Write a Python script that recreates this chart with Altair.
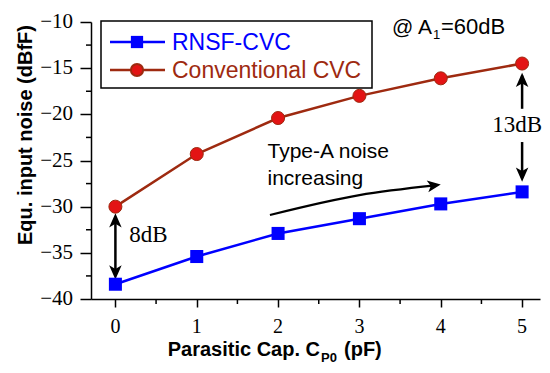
import altair as alt
import pandas as pd

# ---- data ----
cap_pf = [0, 1, 2, 3, 4, 5]
rnsf_cvc = [-38.4, -35.4, -32.9, -31.3, -29.7, -28.4]
conventional_cvc = [-30.0, -24.3, -20.4, -18.0, -16.1, -14.5]
series_names = ["RNSF-CVC", "Conventional CVC"]

x_major = [0, 1, 2, 3, 4, 5]
x_labels = ["0", "1", "2", "3", "4", "5"]
x_minor = [0.5, 1.5, 2.5, 3.5, 4.5]
y_major = [-40, -35, -30, -25, -20, -15, -10]
y_labels = ["\u221240", "\u221235", "\u221230", "\u221225", "\u221220", "\u221215", "\u221210"]
y_minor = [-37.5, -32.5, -27.5, -22.5, -17.5, -12.5]

# curved "Type-A noise increasing" arrow (data coords)
trend_x = [1.9, 3.0, 3.93]
trend_y = [-30.9, -28.75, -27.7]

BLUE = "#0000FF"
BROWN = "#9E2A10"
RED = "#E31414"
SERIF = "Liberation Serif"
SANS = "Liberation Sans"

W, H = 449, 277

xscale = alt.Scale(domain=[-0.3, 5.22], nice=False, zero=False)
yscale = alt.Scale(domain=[-40, -10], nice=False, zero=False)
xaxis = alt.Axis(
    values=x_major, title=None, grid=False, tickSize=8, labels=False,
    domainColor="black", tickColor="black", domainWidth=1.5, tickWidth=1.5,
)
yaxis = alt.Axis(
    values=y_major, title=None, grid=False, tickSize=11, labels=False,
    domainColor="black", tickColor="black", domainWidth=1.5, tickWidth=1.5,
)


def X(f):
    return alt.X(f, type="quantitative", scale=xscale, axis=xaxis)


def Y(f):
    return alt.Y(f, type="quantitative", scale=yscale, axis=yaxis)


df_r = pd.DataFrame({"x": cap_pf, "y": rnsf_cvc})
df_c = pd.DataFrame({"x": cap_pf, "y": conventional_cvc})

line_r = alt.Chart(df_r).mark_line(color=BLUE, strokeWidth=2.5).encode(x=X("x"), y=Y("y"))
pts_r = alt.Chart(df_r).mark_point(shape="square", filled=True, color=BLUE, size=170, opacity=1).encode(x=X("x"), y=Y("y"))
line_c = alt.Chart(df_c).mark_line(color=BROWN, strokeWidth=2.5).encode(x=X("x"), y=Y("y"))
pts_c = alt.Chart(df_c).mark_point(shape="circle", filled=True, fill=RED, stroke=BROWN, strokeWidth=1, size=170, opacity=1).encode(x=X("x"), y=Y("y"))

# minor ticks
minor_x = alt.Chart(pd.DataFrame({"x": x_minor})).mark_rule(color="black", strokeWidth=1.5).encode(
    x=X("x"), y=alt.value(H), y2=alt.value(H + 5))
minor_y = alt.Chart(pd.DataFrame({"y": y_minor})).mark_rule(color="black", strokeWidth=1.5).encode(
    y=Y("y"), x=alt.value(0), x2=alt.value(-5))

# tick labels (serif)
xlab = alt.Chart(pd.DataFrame({"x": x_major, "t": x_labels})).mark_text(
    font=SERIF, fontSize=20, align="center", baseline="middle", color="black").encode(
    x=X("x"), y=alt.value(H + 28), text="t:N")
ylab = alt.Chart(pd.DataFrame({"y": y_major, "t": y_labels})).mark_text(
    font=SERIF, fontSize=21, align="right", baseline="middle", color="black").encode(
    y=Y("y"), x=alt.value(-18), text="t:N")

# double arrows
UP = "M0,0 L0.7,1.6 L0,1.2 L-0.7,1.6 Z"
DOWN = "M0,0 L0.7,-1.6 L0,-1.2 L-0.7,-1.6 Z"
RIGHT = "M0,0 L-1.6,-0.7 L-1.2,0 L-1.6,0.7 Z"

arr_rules = pd.DataFrame({"x": [0, 5, 5], "y": [-31.2, -15.8, -23.0], "y2": [-37.3, -19.4, -26.9]})
rules = alt.Chart(arr_rules).mark_rule(color="black", strokeWidth=2.5).encode(x=X("x"), y=Y("y"), y2="y2")
heads_up = alt.Chart(pd.DataFrame({"x": [0, 5], "y": [-30.7, -15.5]})).mark_point(
    shape=UP, filled=True, color="black", size=320, opacity=1).encode(x=X("x"), y=Y("y"))
heads_dn = alt.Chart(pd.DataFrame({"x": [0, 5], "y": [-37.9, -27.3]})).mark_point(
    shape=DOWN, filled=True, color="black", size=320, opacity=1).encode(x=X("x"), y=Y("y"))

trend = alt.Chart(pd.DataFrame({"x": trend_x, "y": trend_y})).mark_line(
    color="black", strokeWidth=2.2, interpolate="monotone").encode(x=X("x"), y=Y("y"))
trend_head = alt.Chart(pd.DataFrame({"x": [4.0], "y": [-27.6]})).mark_point(
    shape=RIGHT, filled=True, color="black", size=280, opacity=1, angle=352).encode(x=X("x"), y=Y("y"))

ann = pd.DataFrame({"x": [1.87, 1.87], "y": [-24.1, -27.0], "t": ["Type-A noise", "increasing"]})
ann_txt = alt.Chart(ann).mark_text(align="left", baseline="middle", font=SANS, fontSize=21, color="black").encode(
    x=X("x"), y=Y("y"), text="t:N")
db = pd.DataFrame({"x": [0.17, 4.94], "y": [-33.1, -21.2], "t": ["8dB", "13dB"]})
db8 = alt.Chart(db.iloc[[0]]).mark_text(align="left", baseline="middle", font=SERIF, fontSize=23, color="black").encode(
    x=X("x"), y=Y("y"), text="t:N")
db13 = alt.Chart(db.iloc[[1]]).mark_text(align="center", baseline="middle", font=SERIF, fontSize=23, color="black").encode(
    x=X("x"), y=Y("y"), text="t:N")

one = pd.DataFrame({"k": [0]})


def ptext(t, x, y, size, align="left", bold=False, color="black", font=SANS, baseline="alphabetic", angle=0):
    kw = dict(align=align, baseline=baseline, font=font, fontSize=size, color=color,
              fontWeight="bold" if bold else "normal")
    if angle:
        kw["angle"] = angle
    return alt.Chart(pd.DataFrame({"t": [t]})).mark_text(**kw).encode(
        x=alt.value(x), y=alt.value(y), text="t:N")


# legend box
leg_box = alt.Chart(one).mark_rect(fill="white", stroke="black", strokeWidth=1.5).encode(
    x=alt.value(10), x2=alt.value(281), y=alt.value(-1), y2=alt.value(66))
leg_layers = []
for name, col, shape, ly in [(series_names[0], BLUE, "square", 20), (series_names[1], BROWN, "circle", 48)]:
    leg_layers.append(alt.Chart(one).mark_rule(color=col, strokeWidth=2.5).encode(
        x=alt.value(19), x2=alt.value(74), y=alt.value(ly)))
    if shape == "square":
        leg_layers.append(alt.Chart(one).mark_point(shape="square", filled=True, color=BLUE, size=150, opacity=1).encode(
            x=alt.value(46), y=alt.value(ly)))
    else:
        leg_layers.append(alt.Chart(one).mark_point(shape="circle", filled=True, fill=RED, stroke=BROWN, size=150, opacity=1).encode(
            x=alt.value(46), y=alt.value(ly)))
    leg_layers.append(ptext(name, 81, ly + 1, 23, color=col, baseline="middle"))

texts = [
    ptext("Equ. input noise (dBfF)", -65, 113, 20, align="center", bold=True, baseline="middle", angle=270),
    ptext("Parasitic Cap. C", 229, 334, 20, align="right", bold=True),
    ptext("P0", 230, 340, 13, bold=True),
    ptext("(pF)", 253, 334, 20, bold=True),
    ptext("@ A", 301, 12, 21),
    ptext("1", 342, 17, 13),
    ptext("=60dB", 350, 12, 22),
]

chart = alt.layer(
    line_c, line_r, minor_x, minor_y, xlab, ylab, rules, heads_up, heads_dn, trend, trend_head,
    pts_c, pts_r, ann_txt, db8, db13, leg_box, *leg_layers, *texts
).properties(
    width=W, height=H,
    background="white",
    autosize=alt.AutoSizeParams(type="none"),
    padding={"left": 83, "top": 14, "right": 2, "bottom": 66},
).configure_view(stroke=None)

chart.save("out.html", embed_options={"renderer": "svg", "actions": False})
